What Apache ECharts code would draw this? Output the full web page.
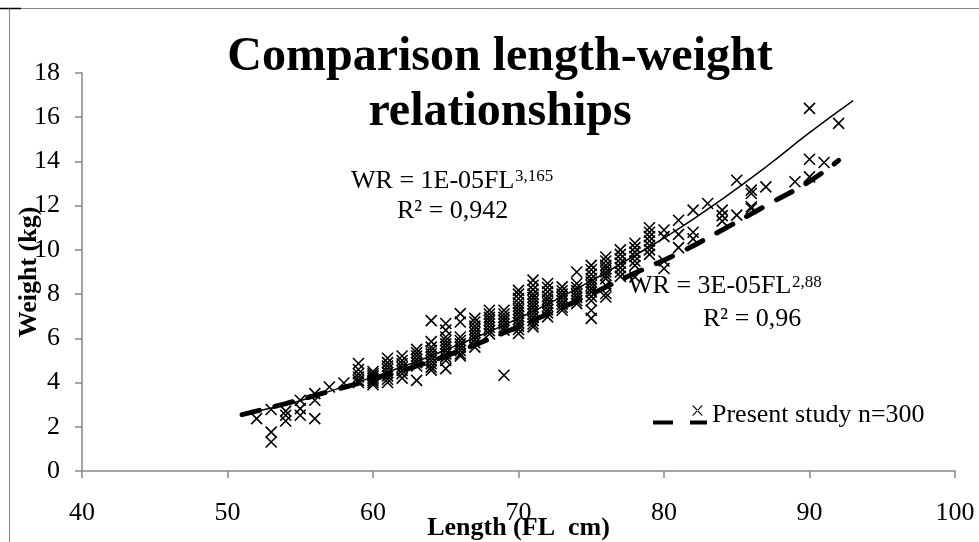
<!DOCTYPE html>
<html>
<head>
<meta charset="utf-8">
<script src="https://cdn.jsdelivr.net/npm/echarts@6/dist/echarts.min.js"></script>
<style>
  html, body { margin: 0; padding: 0; background: #fff; }
  #chart { width: 979px; height: 542px; }
</style>
</head>
<body>
<div id="chart"></div>
<script>
const fishLength = [
  52,
  53, 53, 53,
  54, 54, 54,
  55, 55, 55,
  56, 56, 56,
  57, 58,
  59, 59, 59, 59, 59, 59,
  60, 60, 60, 60, 60, 60, 60,
  61, 61, 61, 61, 61, 61, 61, 61,
  62, 62, 62, 62, 62, 62, 62,
  63, 63, 63, 63, 63, 63, 63,
  64, 64, 64, 64, 64, 64, 64, 64, 64, 64,
  65, 65, 65, 65, 65, 65, 65, 65, 65, 65, 65,
  66, 66, 66, 66, 66, 66, 66, 66, 66,
  67, 67, 67, 67, 67, 67, 67, 67, 67,
  68, 68, 68, 68, 68, 68, 68, 68,
  69, 69, 69, 69, 69, 69, 69, 69,
  70, 70, 70, 70, 70, 70, 70, 70, 70, 70, 70, 70, 70,
  71, 71, 71, 71, 71, 71, 71, 71, 71, 71, 71, 71, 71, 71,
  72, 72, 72, 72, 72, 72, 72, 72, 72, 72,
  73, 73, 73, 73, 73, 73, 73, 73,
  74, 74, 74, 74, 74, 74, 74, 74,
  75, 75, 75, 75, 75, 75, 75, 75, 75, 75, 75, 75,
  76, 76, 76, 76, 76, 76, 76, 76, 76, 76,
  77, 77, 77, 77, 77, 77, 77,
  78, 78, 78, 78, 78, 78, 78,
  79, 79, 79, 79, 79, 79, 79,
  80, 80, 80, 80,
  81, 81, 81,
  82, 82, 82,
  83,
  84, 84, 84,
  85, 85,
  86, 86, 86, 86,
  87,
  89,
  90, 90, 90,
  91,
  92
];
const fishWeight = [
  2.37,
  2.78, 1.76, 1.31,
  2.71, 2.52, 2.26,
  3.2, 2.82, 2.52,
  3.5, 3.2, 2.37,
  3.8, 3.98,
  4.86, 4.59, 4.4, 4.25, 4.1, 4.0,
  4.5, 4.4, 4.3, 4.2, 4.1, 4.0, 3.9,
  5.1, 4.9, 4.75, 4.6, 4.45, 4.3, 4.15, 4.0,
  5.2, 5.0, 4.85, 4.7, 4.55, 4.4, 4.2,
  5.5, 5.35, 5.2, 5.05, 4.9, 4.75, 4.1,
  6.8, 5.85, 5.6, 5.45, 5.3, 5.15, 5.0, 4.85, 4.7, 4.56,
  6.67, 6.37, 6.06, 5.9, 5.75, 5.6, 5.45, 5.3, 5.15, 5.0, 4.63,
  7.12, 6.74, 6.06, 5.9, 5.75, 5.6, 5.45, 5.3, 5.2,
  6.9, 6.74, 6.55, 6.4, 6.25, 6.1, 5.95, 5.8, 5.6,
  7.27, 7.1, 6.95, 6.8, 6.65, 6.5, 6.35, 6.2,
  7.27, 7.1, 6.95, 6.8, 6.65, 6.5, 6.37, 4.33,
  8.17, 8.0, 7.8, 7.6, 7.45, 7.3, 7.15, 7.0, 6.85, 6.7, 6.55, 6.4, 6.22,
  8.63, 8.4, 8.2, 8.0, 7.85, 7.7, 7.55, 7.4, 7.25, 7.1, 6.95, 6.8, 6.65, 6.52,
  8.48, 8.3, 8.1, 7.9, 7.75, 7.6, 7.45, 7.3, 7.15, 6.97,
  8.33, 8.15, 8.0, 7.85, 7.7, 7.55, 7.4, 7.27,
  9.0, 8.48, 8.3, 8.15, 8.0, 7.85, 7.7, 7.57,
  9.3, 9.1, 8.9, 8.7, 8.55, 8.4, 8.25, 8.1, 7.9, 7.7, 7.27, 6.9,
  9.68, 9.5, 9.3, 9.15, 9.0, 8.85, 8.7, 8.4, 8.03, 7.87,
  10.0, 9.8, 9.6, 9.4, 9.2, 9.0, 8.8,
  10.3, 10.1, 9.9, 9.7, 9.5, 9.3, 8.78,
  11.0, 10.8, 10.6, 10.4, 10.2, 10.0, 9.8,
  10.9, 10.6, 9.5, 9.16,
  11.34, 10.7, 10.1,
  11.8, 10.8, 10.5,
  12.1,
  11.8, 11.55, 11.3,
  13.15, 11.57,
  12.7, 12.55, 11.95, 11.87,
  12.85,
  13.08,
  16.4, 14.1, 13.3,
  13.95,
  15.72
];

// solid trend curve (WR = 1E-05FL^3,165)
const trendLength = [51, 54, 57, 60, 63, 66, 69, 72, 75, 78, 81, 84, 87, 90, 93];
const trendWeight = [2.6, 3.0, 3.6, 4.25, 4.95, 5.75, 6.6, 7.55, 8.6, 9.75, 10.95, 12.3, 13.75, 15.3, 16.75];

// dashed curve (WR = 3E-05FL^2,88)
const refLength = [51, 54, 57, 60, 63, 66, 69, 72, 75, 78, 81, 84, 87, 90, 92];
const refWeight = [2.55, 3.05, 3.6, 4.15, 4.75, 5.45, 6.25, 7.1, 8.0, 8.95, 9.85, 10.9, 12.0, 13.1, 14.05];

const xTicks = [40, 50, 60, 70, 80, 90, 100];
const yTicks = [0, 2, 4, 6, 8, 10, 12, 14, 16, 18];

const serif = "'Liberation Serif', 'Times New Roman', serif";
const axisGrey = '#868686';

const scatterData = fishLength.map((l, i) => [l, fishWeight[i]]);
const trendData = trendLength.map((l, i) => [l, trendWeight[i]]);
const refData = refLength.map((l, i) => [l, refWeight[i]]);

const chart = echarts.init(document.getElementById('chart'));

const option = {
  animation: false,
  backgroundColor: '#fff',
  title: {
    text: 'Comparison length-weight\nrelationships',
    left: 500,
    top: 30,
    textAlign: 'center',
    padding: 0,
    textStyle: {
      fontFamily: serif,
      fontSize: 48,
      fontWeight: 'bold',
      color: '#000',
      lineHeight: 55
    }
  },
  legend: {
    left: 653,
    top: 402,
    padding: 0,
    itemWidth: 54,
    itemHeight: 19,
    selectedMode: false,
    textStyle: { fontFamily: serif, fontSize: 26, color: '#000' },
    data: [{
      name: 'Present study n=300',
      icon: 'path://M0,15L20,15L20,19L0,19Z M37,15L54,15L54,19L37,19Z M39,0L40.6,0L50,10L48.4,10Z M50,0L48.4,0L39,10L40.6,10Z',
      itemStyle: { color: '#000', borderWidth: 0 }
    }]
  },
  grid: {
    left: 82,
    width: 873,
    top: 73,
    height: 398,
    containLabel: false,
    outerBoundsMode: 'none'
  },
  xAxis: {
    type: 'value',
    min: xTicks[0],
    max: xTicks[xTicks.length - 1],
    interval: 10,
    name: 'Length (FL  cm)',
    nameLocation: 'middle',
    nameGap: 44,
    nameMoveOverlap: false,
    nameTextStyle: { fontFamily: serif, fontSize: 26, fontWeight: 'bold', color: '#000' },
    axisLine: { lineStyle: { color: axisGrey, width: 1.5 } },
    axisTick: { length: 7, lineStyle: { color: axisGrey, width: 1.5 } },
    axisLabel: { fontFamily: serif, fontSize: 26, color: '#000', margin: 29 },
    splitLine: { show: false }
  },
  yAxis: {
    type: 'value',
    min: yTicks[0],
    max: yTicks[yTicks.length - 1],
    interval: 2,
    name: 'Weight (kg)',
    nameLocation: 'middle',
    nameGap: 40,
    nameMoveOverlap: false,
    nameTextStyle: { fontFamily: serif, fontSize: 26, fontWeight: 'bold', color: '#000' },
    axisLine: { show: true, lineStyle: { color: axisGrey, width: 1.5 } },
    axisTick: { show: true, length: 7, lineStyle: { color: axisGrey, width: 1.5 } },
    axisLabel: { fontFamily: serif, fontSize: 26, color: '#000', margin: 22 },
    splitLine: { show: false }
  },
  series: [
    {
      name: 'Present study n=300',
      type: 'scatter',
      data: scatterData,
      symbol: 'path://M0,0L10,10M10,0L0,10',
      symbolSize: 11,
      itemStyle: { color: 'rgba(0,0,0,0)', borderColor: '#000', borderWidth: 1.6, opacity: 1 },
      z: 2
    },
    {
      name: 'trend',
      type: 'line',
      data: trendData,
      smooth: true,
      showSymbol: false,
      lineStyle: { color: '#000', width: 1.5 },
      z: 3
    },
    {
      name: 'reference',
      type: 'line',
      data: refData,
      smooth: true,
      showSymbol: false,
      lineStyle: { color: '#000', width: 5, type: [18, 16], cap: 'round' },
      z: 4
    }
  ],
  graphic: [
    {
      type: 'rect',
      shape: { x: 9.5, y: 8.5, width: 1000, height: 600 },
      style: { fill: 'none', stroke: axisGrey, lineWidth: 1 },
      silent: true
    },
    {
      type: 'line',
      shape: { x1: 0, y1: 8.5, x2: 21, y2: 8.5 },
      style: { stroke: '#000', lineWidth: 1.5 },
      silent: true
    },
    {
      type: 'text', x: 351, y: 181,
      style: { text: 'WR = 1E-05FL', font: '26px ' + serif, fill: '#000', verticalAlign: 'middle' }
    },
    {
      type: 'text', x: 515, y: 177,
      style: { text: '3,165', font: '17px ' + serif, fill: '#000', verticalAlign: 'middle' }
    },
    {
      type: 'text', x: 397, y: 211,
      style: { text: 'R² = 0,942', font: '26px ' + serif, fill: '#000', verticalAlign: 'middle' }
    },
    {
      type: 'text', x: 628, y: 286,
      style: { text: 'WR = 3E-05FL', font: '26px ' + serif, fill: '#000', verticalAlign: 'middle' }
    },
    {
      type: 'text', x: 792, y: 283,
      style: { text: '2,88', font: '17px ' + serif, fill: '#000', verticalAlign: 'middle' }
    },
    {
      type: 'text', x: 703, y: 319,
      style: { text: 'R² = 0,96', font: '26px ' + serif, fill: '#000', verticalAlign: 'middle' }
    }
  ]
};

chart.setOption(option);
window.addEventListener('resize', () => chart.resize());
</script>
</body>
</html>
